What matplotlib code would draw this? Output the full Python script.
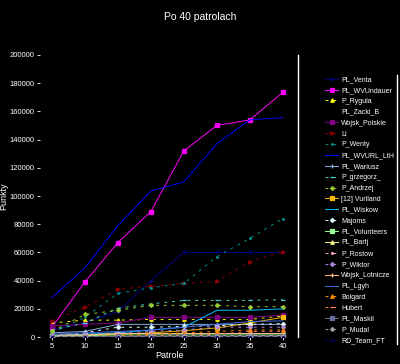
import matplotlib
matplotlib.use("Agg")
import matplotlib.pyplot as plt
from matplotlib.lines import Line2D

plt.rcParams['font.family'] = ['Liberation Sans', 'DejaVu Sans']

TITLE = "Po 40 patrolach"

patrols = [5, 10, 15, 20, 25, 30, 35, 40]

players = [
    "PL_Venta", "PL_WVUndauer", "P_Rygula", "PL_Zacki_B", "Wojsk_Polskie",
    "Ll", "P_Wenty", "PL_WVURL_LtH", "PL_Wariusz", "P_grzegorz_",
    "P_Andrzej", "[12] Vurlland", "PL_Wiskow", "Majoms", "PL_Volunteers",
    "PL_Bartj", "P_Rostow", "P_Wiktor", "Wojsk_Lotnicze", "PL_Lgyh",
    "Bolgard", "Hubert", "PL_Maskil", "P_Mudal", "RD_Team_FT",
]

# points after each 5 patrols, one row per player
scores = [
    [5000, 10000, 18000, 40000, 60000, 60000, 60000, 60000],
    [7000, 39000, 67000, 89000, 132000, 150000, 154000, 173500],
    [10000, 12000, 12000, 12500, 12500, 12500, 12500, 15000],
    [0, 500, 1000, 1500, 2000, 2500, 3000, 3500],
    [8000, 9000, 10000, 14000, 14000, 14000, 14000, 15500],
    [11400, 21000, 34000, 36000, 38000, 39500, 53500, 60500],
    [3000, 14000, 31000, 35000, 38000, 57000, 70000, 84000],
    [28000, 49000, 79000, 103500, 110000, 137000, 154000, 155500],
    [3000, 4000, 9000, 9000, 9000, 9000, 9000, 9000],
    [5000, 10000, 20500, 23500, 26000, 26000, 26000, 26500],
    [4000, 16000, 19000, 22500, 22500, 22500, 21500, 21500],
    [1000, 1500, 2000, 3000, 4500, 6500, 10000, 14000],
    [1000, 2000, 3000, 5000, 7000, 19000, 19000, 20000],
    [1000, 3000, 7000, 7000, 7500, 8000, 9000, 9500],
    [500, 1000, 1500, 1500, 1500, 1500, 1500, 1500],
    [200, 200, 200, 200, 200, 200, 500, 500],
    [0, 200, 300, 500, 600, 800, 1000, 1000],
    [1000, 2000, 3000, 4000, 5000, 7000, 7000, 7000],
    [1500, 1500, 2500, 2500, 2500, 2500, 2500, 2500],
    [2000, 3000, 4000, 5000, 7000, 9000, 11000, 11500],
    [0, 500, 1000, 2000, 3000, 4000, 5000, 5000],
    [0, 0, 500, 1000, 1500, 2000, 4000, 4000],
    [0, 200, 500, 500, 500, 500, 500, 500],
    [0, 0, 200, 500, 1000, 1000, 1000, 1000],
    [0, 0, 0, 100, 100, 200, 200, 200],
]

colors = [
    "#000080", "#ff00ff", "#ffff00", "#000000", "#800080",
    "#8b0000", "#008b8b", "#0000ff", "#87aee0", "#48d1cc",
    "#9acd32", "#f5b800", "#00bfff", "#e0ffff", "#98fb98",
    "#f0f080", "#ffb6c1", "#b088e0", "#ffc090", "#4169e1",
    "#ff8c00", "#ff7f50", "#6a6a9a", "#a0a0a0", "#000060",
]
markers = [
    "+", "s", "^", "", "s", ">", ".", "", "+", "_",
    "P", "s", "", "P", "s", "^", ".", "P", "+", "",
    "^", "_", "s", "P", ".",
]
dashed = [
    False, False, True, True, False, True, True, False, False, True,
    True, False, False, True, False, False, True, True, False, False,
    True, True, False, True, True,
]

fig = plt.figure(figsize=(4.0, 3.64), dpi=100, facecolor="black")
ax = fig.add_axes([0.1, 0.074, 0.645, 0.775], facecolor="black")

for name, ys, c, m, d in zip(players, scores, colors, markers, dashed):
    ls = (0, (3, 5)) if d else "-"
    ax.plot(patrols, ys, color=c, marker=m, markersize=2.5, markeredgewidth=0.9,
            linewidth=0.7, linestyle=ls, label=name)

ax.set_xlim(3.2, 42.3)
ax.set_ylim(0, 200000)
ax.set_xticks(patrols)
ax.set_yticks(range(0, 200001, 20000))
ax.tick_params(colors="white", labelsize=5.5, length=2, width=0.6, pad=2)
for s in ["left", "top", "bottom"]:
    ax.spines[s].set_visible(False)
ax.spines["right"].set_color("white")
ax.spines["right"].set_linewidth(1)

ax.set_xlabel("Patrole", color="white", fontsize=6.5, labelpad=1)
ax.set_ylabel("Punkty", color="white", fontsize=6.5, labelpad=1)

fig.text(0.5, 0.953, TITLE, color="white", fontsize=7.5, ha="center", va="center")

leg = ax.legend(loc="upper left", bbox_to_anchor=(1.095, 0.935), frameon=False,
                fontsize=5, labelcolor="white", handlelength=1.9,
                handletextpad=0.4, labelspacing=0.56, borderaxespad=0)

fig.add_artist(Line2D([0.993, 0.993], [0.055, 0.794], color="white", lw=1,
                      transform=fig.transFigure))

fig.savefig("out.png", dpi=100, facecolor="black")
